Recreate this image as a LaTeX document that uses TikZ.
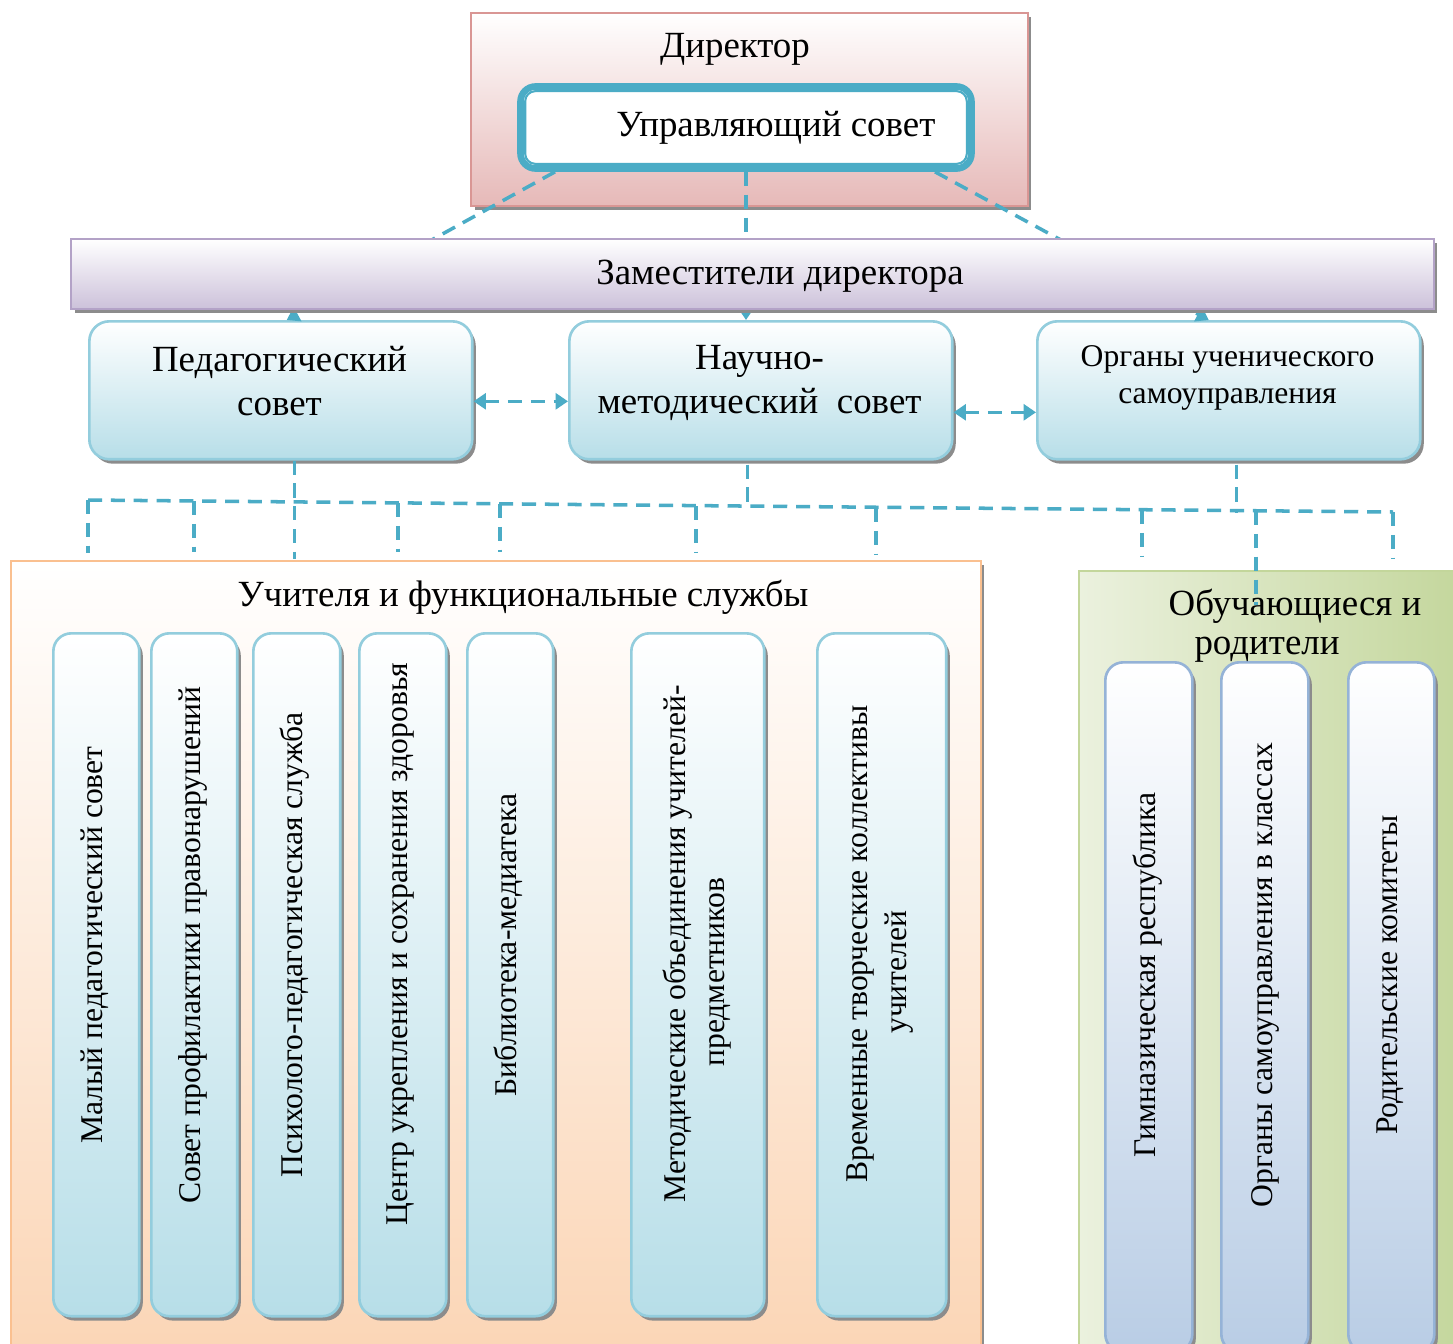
\documentclass[tikz,border=0pt]{standalone}
\usepackage{fontspec}
\setmainfont{Liberation Serif}
\usetikzlibrary{arrows.meta,shadows,calc}
\definecolor{cteal}{HTML}{4BACC6}
\definecolor{dirline}{HTML}{D99694}
\definecolor{dirfill}{HTML}{E6B9B8}
\definecolor{zamline}{HTML}{B3A2C7}
\definecolor{zamfill}{HTML}{CCC1DA}
\definecolor{bline}{HTML}{93CDDD}
\definecolor{bfill}{HTML}{B7DEE8}
\definecolor{oline}{HTML}{FAC090}
\definecolor{ofill}{HTML}{FBD5B5}
\definecolor{gleft}{HTML}{EBF1DE}
\definecolor{gright}{HTML}{C3D69B}
\definecolor{gline}{HTML}{C3D69B}
\definecolor{pline}{HTML}{95B3D7}
\definecolor{pfill}{HTML}{B9CDE5}
\begin{document}
\begin{tikzpicture}[x=0.02cm,y=-0.02cm,
  bigfont/.style={font=\fontsize{21}{25.5}\selectfont},
  smallfont/.style={font=\fontsize{18}{21}\selectfont},
  vfont/.style={font=\fontsize{18}{22}\selectfont},
  shad/.style={general shadow={fill=black!45, shadow xshift=2pt, shadow yshift=-2.5pt}},
  topbox/.style={shad, draw=bline, line width=1.5pt, rounded corners=0.4cm,
     top color=white, bottom color=bfill, minimum width=7.66cm, minimum height=2.76cm,
     anchor=north west, inner sep=0pt},
  vbox/.style={shad, draw=bline, line width=1.5pt, rounded corners=0.36cm,
     top color=white, bottom color=bfill, minimum height=13.66cm,
     anchor=north west, inner sep=0pt},
  pbox/.style={shad, draw=pline, line width=1.5pt, rounded corners=0.36cm,
     top color=white, bottom color=pfill, minimum height=13.8cm,
     anchor=north west, inner sep=0pt},
  vtext/.style={vfont, rotate=90, align=center, inner sep=0pt},
  conn/.style={draw=cteal, line width=2pt, dash pattern=on 8pt off 5pt},
  arr/.style={-{Triangle[width=9pt,length=7pt]}},
  darr/.style={{Triangle[width=9pt,length=7pt]}-{Triangle[width=9pt,length=7pt]}},
]
\useasboundingbox (0,0) rectangle (1453,1343);
\clip (0,0) rectangle (1453,1343);
\fill[white] (0,0) rectangle (1453,1343);

% Director
\node[shad, draw=dirline, line width=1.2pt, top color=white, bottom color=dirfill,
  minimum width=11.14cm, minimum height=3.86cm, anchor=north west, inner sep=0pt] (dir) at (470,12) {};
\node[bigfont] (dirt) at (735,49) {Директор};
% Managing council
\node[draw=cteal, line width=3.8pt, fill=white, rounded corners=0.3cm,
  minimum width=9.02cm, minimum height=1.64cm, inner sep=0pt, bigfont] (u) at (746,127.5)
  {\hspace*{34pt}Управляющий совет};
\draw[cteal, line width=1.2pt, rounded corners=0.2cm]
  ($(u.north west)+(8,8)$) rectangle ($(u.south east)+(-8,-8)$);

% Three top boxes
\node[topbox] (ped) at (88,320) {};
\node[topbox] (nm) at (568,320) {};
\node[topbox] (org) at (1036,320) {};
\node[bigfont, align=center] (pedt) at (279.5,381) {Педагогический\\совет};
\node[bigfont, align=center] (nmt) at (759.5,383) {Научно-\\методический~ совет};
\node[smallfont, align=center] (orgt) at (1227.5,378) {Органы ученического\\самоуправления};

% connectors from managing council
\draw[conn, arr] ($(u.south)+(-191,0)$) -- ($(ped.north)+(6,0)$);
\draw[conn, arr] (u.south) -- (u.south |- nm.north);
\draw[conn, arr] ($(u.south)+(189,0)$) -- ($(org.north)+(-20,0)$);

% Deputies bar
\node[shad, draw=zamline, line width=1.2pt, top color=white, bottom color=zamfill,
  minimum width=27.26cm, minimum height=1.4cm, anchor=north west, inner sep=0pt] (zam) at (70,238) {};
\node[bigfont] (zamt) at (780,276) {Заместители директора};

% double arrows
\draw[conn, darr] ($(ped.east)+(0,11)$) -- ($(nm.west)+(0,11)$);
\draw[conn, darr] ($(nm.east)+(0,22)$) -- ($(org.west)+(0,22)$);

% Teachers area
\node[shad, draw=oline, line width=1.2pt, top color=white, bottom color=ofill,
  minimum width=19.4cm, minimum height=16cm, anchor=north west, inner sep=0pt] (teach) at (10,560) {};
\node[bigfont] (teacht) at (523,597) {Учителя и функциональные службы};

% Students area
\node[draw=gline, line width=1.2pt, left color=gleft, right color=gright,
  minimum width=7.84cm, minimum height=15.8cm, anchor=north west, inner sep=0pt] (stud) at (1078,570) {};

% tree
\coordinate (hl) at (88,500);
\coordinate (hr) at (1393,512);
\draw[conn] (hl) -- (hr);
\draw[conn] ($(ped.south)+(13.5,0)$) -- ++(0,98);
\draw[conn] ($(nm.south)+(-13.5,4)$) -- ++(0,42);
\draw[conn] ($(org.south)+(7.5,4)$) -- ++(0,48);
\foreach \x/\ya/\yb in {88/500/553, 194/501/552, 398/503/552, 500/504/552, 696/506/553,
   876/508/554, 1142/510/557, 1393/512/559}
  \draw[conn] (\x,\ya) -- (\x,\yb);

% vertical boxes (teachers)
\node[vbox, minimum width=1.72cm] (b1) at (52,632) {};
\node[vbox, minimum width=1.72cm] (b2) at (150,632) {};
\node[vbox, minimum width=1.74cm] (b3) at (252,632) {};
\node[vbox, minimum width=1.74cm] (b4) at (358,632) {};
\node[vbox, minimum width=1.72cm] (b5) at (466,632) {};
\node[vbox, minimum width=2.66cm] (b6) at (630,632) {};
\node[vbox, minimum width=2.58cm] (b7) at (816,632) {};
\node[vtext] (b1t) at (95,945) {Малый педагогический совет};
\node[vtext] (b2t) at (193,945) {Совет профилактики правонарушений};
\node[vtext] (b3t) at (295,945) {Психолого-педагогическая служба};
\node[vtext] (b4t) at (401,944) {Центр укрепления и сохранения здоровья};
\node[vtext] (b5t) at (508,945) {Библиотека-медиатека};
\node[vtext] (b6t) at (697,944) {Методические объединения учителей-\\предметников\hspace*{32pt}};
\node[vtext] (b7t) at (880,944) {Временные творческие коллективы\\учителей\hspace*{32pt}};

% student boxes
\node[pbox, minimum width=1.74cm] (s1) at (1104,661) {};
\node[pbox, minimum width=1.74cm] (s2) at (1220,661) {};
\node[pbox, minimum width=1.72cm] (s3) at (1347,661) {};
\node[vtext] (s1t) at (1148,975) {Гимназическая республика};
\node[vtext] (s2t) at (1265,975) {Органы самоуправления в классах};
\node[vtext] (s3t) at (1390,975) {Родительские комитеты};

% titles of students area
\node[bigfont] (studt1) at (1295,606) {Обучающиеся и};
\node[bigfont] (studt2) at (1267,650) {родители};
\draw[conn] (1256,511) -- (1256,605);
\end{tikzpicture}
\end{document}
